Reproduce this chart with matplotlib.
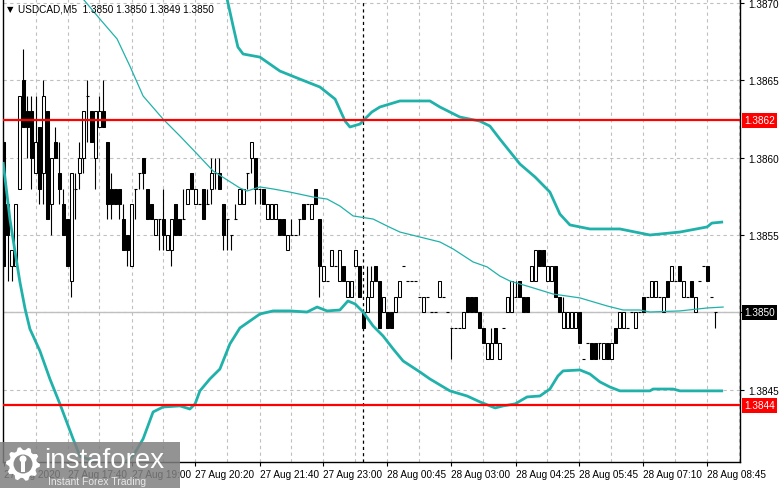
import numpy as np
import matplotlib
matplotlib.use("Agg")
import matplotlib.pyplot as plt
from matplotlib.patches import Rectangle, Polygon, Circle
import matplotlib.transforms as mtransforms

plt.rcParams['font.family'] = ['Liberation Sans', 'DejaVu Sans']

# candles, in pips above 1.3800 (M5 bars, index 0 = 27 Aug 16:20)
open_pips = [61, 57, 53, 53, 58, 65, 63, 63, 59, 62, 59, 63, 57, 61, 59, 57, 56, 52, 58, 59,
             60, 64, 63, 60, 62, 63, 61, 58, 58, 58, 56, 55, 53, 58, 59, 60, 58, 57, 55, 56,
             56, 54, 54, 57, 56, 56, 57, 59, 57, 57, 58, 57, 58, 59, 59, 57, 56, 55, 56, 57,
             57, 59, 60, 60, 58, 58, 56, 56, 56, 56, 56, 54, 55, 55, 56, 57, 57, 56, 58, 56,
             52, 52, 53, 53, 52, 53, 51, 51, 53, 53, 50, 50, 51, 53, 52, 50, 50, 50, 50, 51,
             53, 52, 52, 52, 51, 50, 51, 50, 50, 51, 51, 50, 49, 49, 49, 49, 51, 51, 51, 50,
             49, 47, 47, 49, 47, 49, 50, 50, 51, 52, 51, 51, 52, 52, 54, 54, 52, 52, 53, 51,
             49, 49, 49, 49, 50, 47, 48, 48, 48, 48, 47, 48, 47, 49, 49, 49, 49, 50, 49, 50,
             51, 51, 51, 51, 51, 50, 52, 52, 52, 53, 51, 51, 52, 50, 52, 53, 53, 51, 50]
high_pips = [61, 57, 54, 57, 64, 67, 64, 64, 64, 62, 65, 63, 60, 62, 61, 58, 56, 59, 59, 61,
             63, 65, 63, 63, 64, 65, 61, 59, 58, 58, 57, 55, 57, 58, 59, 60, 58, 57, 56, 56,
             58, 55, 56, 57, 56, 58, 58, 59, 58, 57, 58, 58, 60, 60, 60, 57, 56, 55, 57, 58,
             58, 59, 61, 60, 58, 58, 57, 57, 57, 56, 56, 55, 56, 55, 56, 57, 57, 57, 58, 56,
             53, 52, 54, 53, 54, 53, 52, 52, 54, 53, 50, 53, 53, 53, 52, 51, 50, 50, 51, 52,
             53, 52, 52, 52, 51, 51, 51, 50, 50, 52, 51, 50, 49, 49, 49, 50, 51, 51, 51, 50,
             49, 48, 49, 49, 48, 49, 51, 52, 52, 52, 51, 51, 53, 54, 54, 54, 53, 53, 53, 51,
             51, 50, 50, 50, 50, 47, 48, 48, 48, 48, 48, 48, 48, 49, 50, 50, 49, 50, 50, 50,
             51, 51, 52, 52, 51, 51, 52, 53, 52, 53, 52, 51, 52, 51, 52, 53, 53, 51, 50]
low_pips = [53, 52, 52, 53, 58, 62, 60, 58, 59, 57, 57, 56, 55, 60, 57, 55, 53, 51, 56, 58,
            59, 61, 61, 58, 62, 62, 56, 56, 57, 56, 54, 53, 53, 56, 58, 58, 56, 56, 55, 54,
            54, 54, 53, 55, 55, 56, 57, 58, 57, 57, 56, 57, 57, 58, 58, 54, 54, 54, 56, 57,
            57, 58, 59, 57, 57, 57, 56, 56, 56, 55, 55, 54, 55, 55, 55, 56, 57, 56, 57, 51,
            52, 52, 53, 53, 52, 52, 51, 51, 53, 51, 49, 50, 51, 52, 49, 50, 49, 49, 50, 51,
            53, 52, 52, 52, 51, 50, 51, 50, 50, 51, 51, 50, 47, 49, 49, 49, 50, 50, 50, 49,
            48, 47, 47, 48, 47, 49, 50, 50, 51, 51, 50, 50, 52, 52, 53, 53, 52, 52, 51, 50,
            49, 49, 49, 49, 48, 47, 48, 47, 47, 47, 47, 47, 47, 48, 49, 49, 49, 50, 49, 50,
            50, 51, 51, 51, 51, 50, 51, 52, 52, 52, 51, 51, 51, 50, 52, 53, 52, 51, 49]
close_pips = [53, 55, 54, 57, 64, 62, 62, 60, 61, 58, 64, 56, 60, 60, 58, 55, 53, 59, 58, 60,
              63, 64, 61, 63, 63, 62, 57, 57, 57, 57, 54, 54, 57, 58, 59, 59, 56, 56, 56, 56,
              55, 55, 56, 55, 55, 56, 58, 58, 58, 57, 56, 57, 59, 59, 58, 55, 56, 55, 56, 58,
              58, 59, 61, 58, 58, 57, 57, 57, 57, 55, 55, 55, 55, 55, 56, 56, 57, 57, 57, 53,
              53, 52, 54, 53, 54, 52, 52, 52, 54, 51, 49, 51, 52, 52, 49, 51, 49, 49, 51, 52,
              53, 52, 52, 52, 51, 51, 51, 50, 50, 52, 51, 50, 49, 49, 49, 50, 50, 50, 50, 49,
              48, 48, 48, 48, 48, 49, 51, 52, 51, 51, 50, 50, 53, 54, 53, 53, 53, 53, 51, 50,
              50, 50, 50, 50, 48, 47, 48, 47, 47, 48, 48, 47, 48, 48, 50, 50, 49, 50, 50, 50,
              50, 51, 52, 52, 51, 51, 51, 53, 52, 52, 52, 51, 51, 51, 52, 53, 52, 51, 50]

time_labels = ["27 Aug 2020", "27 Aug 17:40", "27 Aug 19:00", "27 Aug 20:20", "27 Aug 21:40",
               "27 Aug 23:00", "28 Aug 00:45", "28 Aug 03:00", "28 Aug 04:25", "28 Aug 05:45",
               "28 Aug 07:10", "28 Aug 08:45"]
time_label_bars = [0, 16, 32, 48, 64, 80, 96, 112, 128, 144, 160, 176]
price_ticks = [1.3845, 1.3850, 1.3855, 1.3860, 1.3865, 1.3870]

# bollinger bands (bar index, price)
upper_bar = [55.4, 55.9, 57.4, 58.6, 59.9, 64.1, 69.1, 74.1, 79.1, 82.9, 85.4, 86.6, 89.1, 92.1,
             94.1, 99.1, 106.6, 109.1, 114.1, 119.1, 121.6, 124.1, 129.1, 132.9, 136.6, 139.1,
             141.6, 146.6, 154.1, 161.6, 169.1, 175.9, 177.1, 179.9]
upper_val = [1.387087, 1.387023, 1.386848, 1.386713, 1.386668, 1.386648, 1.386558, 1.386506,
             1.386455, 1.386377, 1.386235, 1.386197, 1.386216, 1.386294, 1.386326, 1.386365,
             1.386365, 1.386326, 1.386261, 1.386235, 1.386203, 1.386119, 1.385958, 1.385874,
             1.385777, 1.385635, 1.385565, 1.385539, 1.385539, 1.385500, 1.385519, 1.385552,
             1.385577, 1.385584]
mid_bar = [19.0, 19.9, 24.1, 28.4, 31.6, 34.9, 39.9, 44.1, 48.4, 52.4, 59.1, 60.9, 64.1, 67.4,
           71.6, 77.4, 80.9, 84.1, 87.4, 92.4, 95.9, 99.1, 104.1, 109.1, 112.4, 117.4, 120.9,
           124.1, 126.6, 131.6, 137.4, 144.1, 150.9, 154.9, 159.1, 161.6, 169.1, 175.9, 179.9]
mid_val = [1.387080, 1.387023, 1.386894, 1.386765, 1.386590, 1.386397, 1.386248, 1.386139,
           1.386023, 1.385913, 1.385803, 1.385784, 1.385810, 1.385797, 1.385777, 1.385745,
           1.385732, 1.385687, 1.385623, 1.385603, 1.385558, 1.385519, 1.385487, 1.385455,
           1.385410, 1.385326, 1.385294, 1.385235, 1.385203, 1.385165, 1.385119, 1.385094,
           1.385042, 1.385016, 1.385016, 1.385003, 1.385010, 1.385029, 1.385035]
lower_bar = [-0.1, 1.6, 2.9, 4.1, 5.4, 6.6, 9.1, 11.6, 14.1, 17.4, 19.1, 24.1, 29.1, 32.4, 34.9,
             37.4, 39.9, 44.1, 46.6, 47.9, 49.1, 51.6, 54.1, 56.6, 59.1, 64.1, 67.4, 71.6, 75.9,
             78.4, 80.9, 84.1, 86.1, 87.9, 89.9, 92.4, 94.9, 97.4, 99.9, 104.1, 106.6, 111.6,
             115.9, 119.1, 122.9, 124.9, 127.9, 130.9, 134.1, 136.6, 138.6, 139.9, 144.1, 146.6,
             149.1, 151.6, 154.1, 161.6, 162.4, 167.4, 169.1, 179.9]
lower_val = [1.385971, 1.385603, 1.385390, 1.385197, 1.385023, 1.384894, 1.384752, 1.384571,
             1.384410, 1.384184, 1.384074, 1.384023, 1.384010, 1.384074, 1.384184, 1.384358,
             1.384390, 1.384397, 1.384377, 1.384410, 1.384494, 1.384571, 1.384635, 1.384797,
             1.384900, 1.384990, 1.385010, 1.385010, 1.385003, 1.385035, 1.385010, 1.385016,
             1.385074, 1.385055, 1.385003, 1.384913, 1.384848, 1.384765, 1.384687, 1.384616,
             1.384571, 1.384494, 1.384461, 1.384423, 1.384384, 1.384397, 1.384410, 1.384455,
             1.384461, 1.384506, 1.384590, 1.384623, 1.384629, 1.384603, 1.384552, 1.384519,
             1.384494, 1.384494, 1.384506, 1.384506, 1.384494, 1.384494]

resistance = 1.38624
support = 1.38440
last_price = 1.3850
day_break_bar = 89.9

TEAL = '#20b2aa'
GRID = '#c0c0c0'

W, H = 781, 489
fig = plt.figure(figsize=(W / 100, H / 100), dpi=100)
fig.patch.set_facecolor('white')
ax = fig.add_axes([3 / W, 26 / H, 737 / W, 463 / H])
ax.set_xlim(-0.125, 184.125)
ax.set_ylim(1.384035, 1.387023)

o = 1.38 + np.array(open_pips) / 10000
h = 1.38 + np.array(high_pips) / 10000
l = 1.38 + np.array(low_pips) / 10000
c = 1.38 + np.array(close_pips) / 10000
idx = np.arange(len(o))

# grid
for b in range(8, 185, 8):
    ax.axvline(b, color=GRID, lw=0.8, ls=(0, (3, 3)), zorder=0)
for p in price_ticks:
    ax.axhline(p, color=GRID, lw=0.8, ls=(0, (3, 3)), zorder=0)
ax.axhline(last_price, color=GRID, lw=1.0, zorder=1)
ax.axvline(day_break_bar, color='black', lw=0.9, ls=(0, (2.5, 2.5)), zorder=1)

# candles
ax.vlines(idx, l, h, color='black', lw=0.8, zorder=2)
for i in idx:
    if abs(c[i] - o[i]) < 1e-7:
        ax.hlines(o[i], i - 0.38, i + 0.38, color='black', lw=0.8, zorder=3)
    else:
        fc = 'white' if c[i] > o[i] else 'black'
        ax.add_patch(Rectangle((i - 0.27, min(o[i], c[i])), 0.54, abs(c[i] - o[i]),
                               facecolor=fc, edgecolor='black', lw=0.75, zorder=3))

# bands
ax.plot(upper_bar, upper_val, color=TEAL, lw=2.0, zorder=4, solid_capstyle='butt')
ax.plot(lower_bar, lower_val, color=TEAL, lw=2.0, zorder=4, solid_capstyle='butt')
ax.plot(mid_bar, mid_val, color=TEAL, lw=0.9, zorder=4)

# levels
ax.axhline(resistance, color='red', lw=1.6, zorder=5)
ax.axhline(support, color='red', lw=1.6, zorder=5)

# axes styling
ax.spines['top'].set_visible(False)
for side in ['left', 'right', 'bottom']:
    ax.spines[side].set_color('black')
    ax.spines[side].set_linewidth(1.0)
ax.yaxis.tick_right()
ax.set_yticks(price_ticks)
# the 1.3850 tick is labelled by the current-price box instead
ax.set_yticklabels(['' if p == last_price else '%.4f' % p for p in price_ticks])
ax.tick_params(axis='y', length=3, width=0.8, pad=3, labelsize=7.2, colors='black')
ax.set_xticks(time_label_bars)
ax.set_xticklabels(time_labels, ha='left')
ax.tick_params(axis='x', length=3, width=0.8, pad=2, labelsize=7.2, colors='black')
ax.set_facecolor('white')

trans = mtransforms.blended_transform_factory(ax.transAxes, ax.transData)
for val, txt, col in [(resistance, '1.3862', 'red'), (support, '1.3844', 'red'),
                      (last_price, '1.3850', 'black')]:
    ax.text(1.006, val, txt, transform=trans, ha='left', va='center', color='white',
            fontsize=7.2, clip_on=False, zorder=10,
            bbox=dict(boxstyle='square,pad=0.22', fc=col, ec='none'))

# overlay in pixel coordinates for header and watermark
ov = fig.add_axes([0, 0, 1, 1], zorder=20)
ov.set_xlim(0, W)
ov.set_ylim(H, 0)
ov.axis('off')
ov.patch.set_alpha(0)

ov.text(7, 10, '\u25bc', fontsize=6, va='center', ha='left', color='black', family='DejaVu Sans')
ov.text(18, 10, 'USDCAD,M5  1.3850 1.3850 1.3849 1.3850', fontsize=7.2, va='center',
        ha='left', color='black')

ov.add_patch(Rectangle((0, 443), 180, 46, facecolor='#808080', edgecolor='none', alpha=0.85))
ang = np.linspace(0, 2 * np.pi, 41)[:-1]
rad = np.where((np.arange(40) // 2) % 2 == 0, 17, 14)
gear = np.column_stack([23 + rad * np.cos(ang), 465 + rad * np.sin(ang)])
ov.add_patch(Polygon(gear, closed=True, facecolor='white', edgecolor='none'))
ov.add_patch(Circle((23, 465), 9.5, facecolor='#8a8a8a', edgecolor='none'))
ov.add_patch(Circle((23, 460), 3.5, facecolor='white', edgecolor='none'))
ov.add_patch(Rectangle((21, 463), 4, 10, facecolor='white', edgecolor='none'))
ov.text(44, 461, 'instaforex', fontsize=20, color='white', va='center', ha='left')
ov.text(48, 482, 'Instant Forex Trading', fontsize=7.5, color='#e8e8e8', va='center', ha='left')

fig.savefig('out.png', dpi=100)
